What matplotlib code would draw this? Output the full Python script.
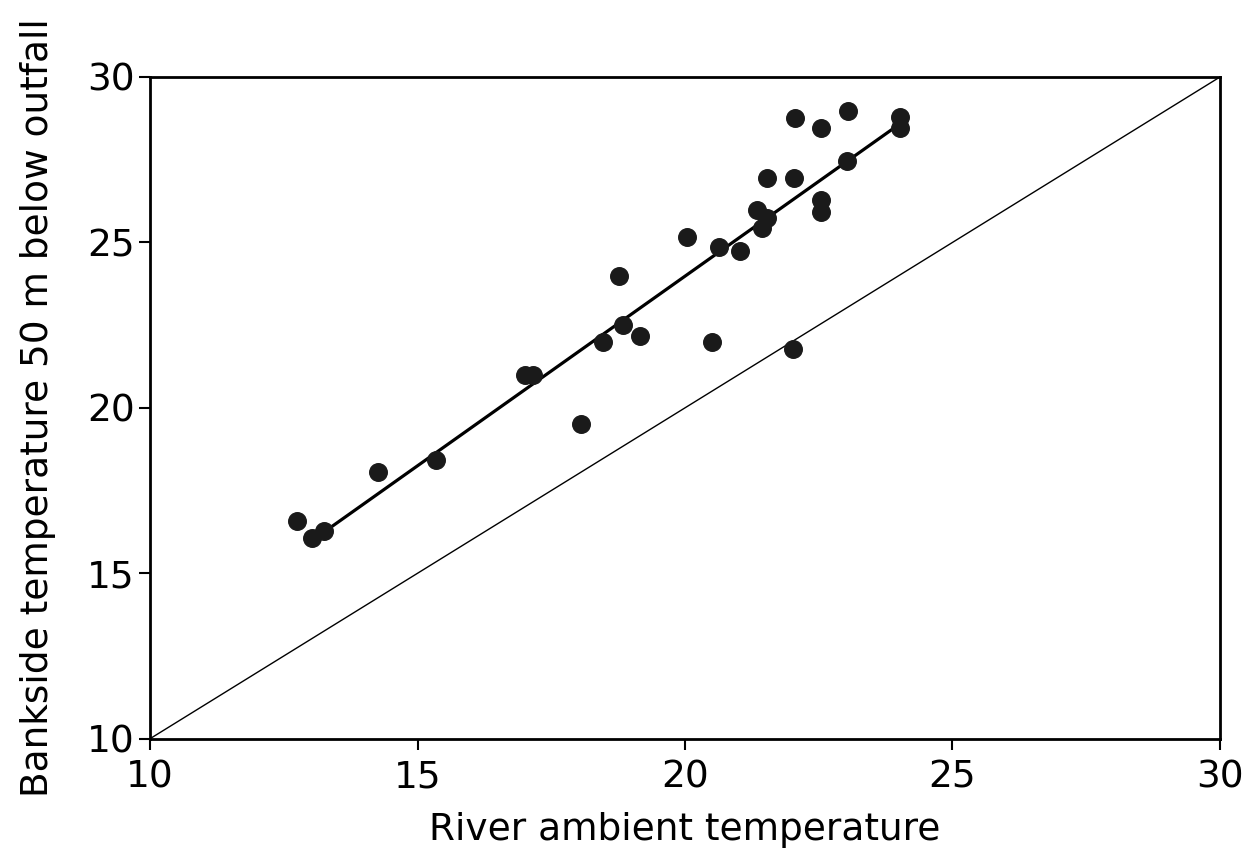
# Bankside vs river ambient temperature, with fitted line and 1:1 line
import matplotlib.pyplot as plt
import numpy as np

# measured temperatures (deg C)
ambient = [12.74, 13.03, 13.25, 14.26, 15.34, 17.0, 17.15, 18.06, 18.46,
           18.76, 18.85, 19.15, 20.04, 20.51, 20.63, 21.03, 21.34, 21.43,
           21.53, 21.54, 22.02, 22.04, 22.06, 22.54, 22.54, 22.55, 23.02,
           23.04, 24.02, 24.02]
bankside = [16.58, 16.06, 16.27, 18.05, 18.43, 21.0, 21.0, 19.51, 22.0,
            23.97, 22.49, 22.17, 25.16, 22.0, 24.86, 24.75, 25.98, 25.43,
            25.75, 26.96, 21.79, 26.96, 28.77, 26.28, 25.91, 28.46, 27.46,
            28.96, 28.8, 28.45]

# regression line end points
fit_x = [13.3, 23.9]
fit_y = [16.3, 28.45]

ticks = [10, 15, 20, 25, 30]

fig = plt.figure(figsize=(12.44, 8.65), dpi=100)
ax = fig.add_axes([0.1206, 0.146, 0.9807 - 0.1206, 0.9110 - 0.146])

ax.plot([10, 30], [10, 30], color='black', linewidth=1.0)
ax.plot(fit_x, fit_y, color='black', linewidth=2.3)
ax.scatter(ambient, bankside, s=160, color='#1a1a1a', zorder=3)

ax.set_xlim(10, 30)
ax.set_ylim(10, 30)
ax.set_xticks(ticks)
ax.set_yticks(ticks)
ax.tick_params(direction='out', length=8, width=1.5, labelsize=27, pad=3)
ax.tick_params(axis='x', pad=7)

for side in ax.spines.values():
    side.set_linewidth(2.0)

ax.set_xlabel('River ambient temperature', fontsize=27, labelpad=12)
ax.set_ylabel('Bankside temperature 50 m below outfall', fontsize=27, labelpad=22)

fig.savefig('out.png', dpi=100)
